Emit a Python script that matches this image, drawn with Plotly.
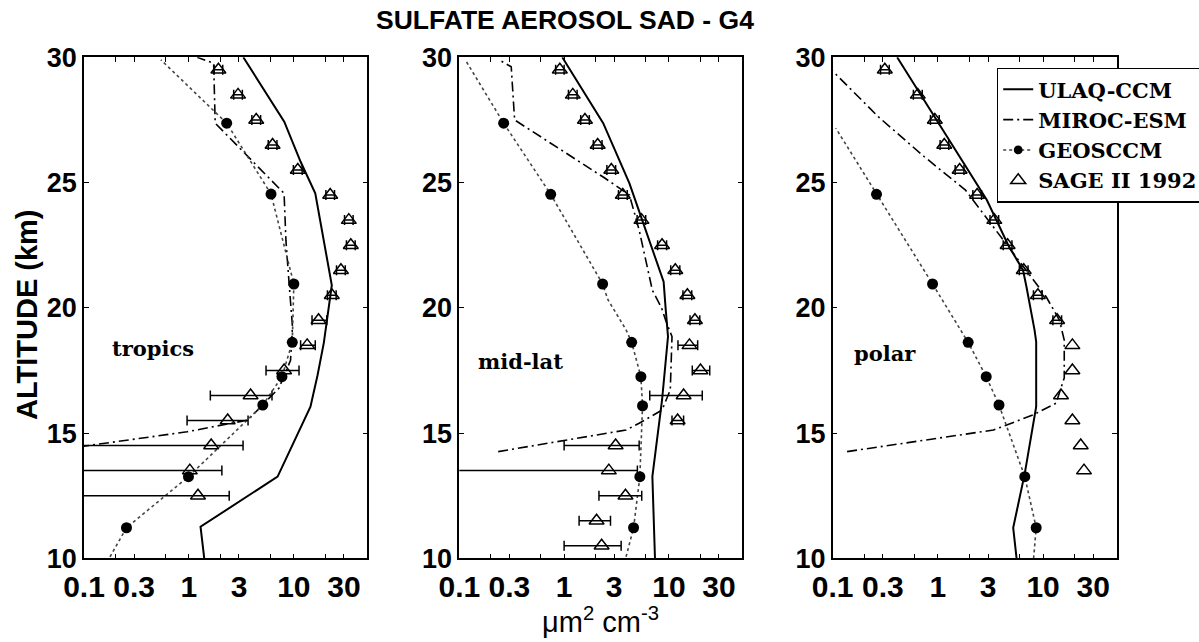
import plotly.graph_objects as go

# ------------------------------------------------------------------ data
TICK_VALS = [0.1, 0.3, 1, 3, 10, 30]
TICK_TEXT = ["0.1", "0.3", "1", "3", "10", "30"]
MINOR_TICK_VALS = [0.2, 0.6, 2, 6, 20]
Y_TICKS = [10, 15, 20, 25, 30]
PANEL_NAMES = ["tropics", "mid-lat", "polar"]
SERIES = ["ULAQ-CCM", "MIROC-ESM", "GEOSCCM", "SAGE II 1992"]

# --- tropics
trop_ulaq_alt = [10, 11.26, 13.26, 16.05, 17.3, 18.6, 20.9, 24.57, 25.83, 27.43, 30]
trop_ulaq_val = [1.40, 1.29, 7.0, 14.4, 16.8, 19.3, 23.0, 16.0, 11.6, 8.1, 3.3]
trop_miroc_alt = [14.45, 15.05, 15.52, 16.79, 17.9, 19.25, 21.0, 22.7, 24.57, 27.37, 29.76, 30]
trop_miroc_val = [0.09, 0.96, 3.65, 7.2, 9.3, 9.7, 9.0, 8.4, 8.07, 1.78, 1.72, 1.2]
trop_geos_alt = [10.06, 11.22, 13.26, 16.12, 17.25, 18.62, 20.95, 24.54, 27.37, 29.9]
trop_geos_val = [0.177, 0.254, 0.99, 5.06, 7.7, 9.66, 10.0, 6.06, 2.29, 0.54]
trop_geos_dot = [0, 1, 1, 1, 1, 1, 1, 1, 1, 0]
trop_sage_alt = [12.5, 13.5, 14.5, 15.5, 16.5, 17.5, 18.5, 19.5, 20.5, 21.5,
                 22.5, 23.5, 24.5, 25.5, 26.5, 27.5, 28.5, 29.5]
trop_sage_val = [1.22, 1.02, 1.63, 2.34, 3.87, 8.07, 13.4, 17.2, 23.0, 28.1,
                 34.9, 33.4, 22.2, 10.9, 6.27, 4.38, 2.94, 1.91]
trop_sage_lo = [0.05, 0.05, 0.05, 0.96, 1.60, 5.43, 11.6, 14.9, 20.9, 25.5,
                31.7, 30.4, 20.2, 9.9, 5.7, 3.98, 2.67, 1.74]
trop_sage_hi = [2.42, 2.06, 3.28, 3.66, 6.19, 11.2, 16.0, 20.6, 25.3, 30.9,
                38.4, 36.7, 24.4, 12.0, 6.9, 4.82, 3.23, 2.10]

# --- mid-latitudes
mid_ulaq_alt = [10, 11.26, 13.26, 16.32, 18.85, 19.98, 21.04, 24.97, 27.37, 30]
mid_ulaq_val = [7.36, 7.2, 6.95, 8.6, 9.8, 9.3, 8.9, 4.2, 2.36, 0.96]
mid_miroc_alt = [14.26, 15.12, 15.39, 15.92, 16.72, 18.85, 19.5, 20.0, 20.7, 23.1,
                 24.5, 25.2, 27.5, 29.62, 29.92]
mid_miroc_val = [0.235, 3.9, 5.2, 8.6, 10.3, 10.7, 9.3, 8.5, 6.95, 5.2,
                 4.2, 2.4, 0.337, 0.313, 0.235]
mid_geos_alt = [10.06, 11.22, 13.26, 16.09, 17.25, 18.62, 19.12, 20.32, 20.95, 24.53, 27.37, 29.9]
mid_geos_val = [3.9, 4.6, 5.28, 5.6, 5.4, 4.41, 3.9, 2.62, 2.33, 0.745, 0.265, 0.114]
mid_geos_dot = [0, 1, 1, 1, 1, 1, 0, 0, 1, 1, 1, 0]
mid_sage_alt = [10.5, 11.5, 12.5, 13.5, 14.5, 15.5, 16.5, 17.5, 18.5, 19.5,
                20.5, 21.5, 22.5, 23.5, 24.5, 25.5, 26.5, 27.5, 28.5, 29.5]
mid_sage_val = [2.28, 2.04, 3.85, 2.67, 3.1, 12.1, 13.8, 20.0, 15.7, 17.7,
                15.0, 11.5, 8.6, 5.47, 3.63, 2.82, 2.09, 1.58, 1.21, 0.91]
mid_sage_lo = [1.0, 1.39, 2.15, 0.05, 1.0, 10.7, 6.56, 16.7, 12.2, 15.9,
               13.6, 10.4, 7.8, 4.97, 3.3, 2.56, 1.9, 1.44, 1.1, 0.83]
mid_sage_hi = [3.5, 2.77, 5.5, 5.0, 5.2, 13.8, 20.8, 24.5, 18.8, 19.7,
               16.5, 12.7, 9.5, 6.0, 4.0, 3.1, 2.3, 1.74, 1.33, 1.0]

# --- polar
pol_ulaq_alt = [10, 11.22, 13.39, 16.05, 18.65, 19.11, 20.84, 21.5, 22.5, 24.3, 30]
pol_ulaq_val = [5.6, 5.2, 6.7, 8.6, 8.6, 8.3, 6.95, 6.45, 4.67, 2.92, 0.41]
pol_miroc_alt = [14.26, 15.12, 15.72, 16.19, 17.2, 18.71, 19.51, 20.44, 22.18, 23.24,
                 24.7, 26.03, 27.63, 29.45]
pol_miroc_val = [0.137, 3.37, 8.0, 13.3, 15.9, 15.9, 14.3, 10.7, 5.2, 3.37,
                 1.83, 0.743, 0.271, 0.1]
pol_geos_alt = [10.0, 11.22, 13.26, 16.12, 17.25, 18.62, 20.95, 24.53, 27.17]
pol_geos_val = [8.13, 8.6, 6.7, 3.81, 2.88, 1.94, 0.89, 0.261, 0.107]
pol_geos_dot = [0, 1, 1, 1, 1, 1, 1, 1, 0]
pol_sage_alt = [13.5, 14.5, 15.5, 16.5, 17.5, 18.5, 19.5, 20.5, 21.5, 22.5,
                23.5, 24.5, 25.5, 26.5, 27.5, 28.5, 29.5]
pol_sage_val = [24.5, 22.8, 19.0, 14.8, 19.0, 19.0, 13.6, 8.93, 6.55, 4.6,
                3.44, 2.36, 1.61, 1.15, 0.935, 0.644, 0.313]
pol_sage_lo = [None, None, None, None, None, None, 12.4, 8.1, 5.95, 4.18,
               3.13, 2.15, 1.46, 1.05, 0.85, 0.585, 0.285]
pol_sage_hi = [None, None, None, None, None, None, 15.0, 9.8, 7.2, 5.06,
               3.78, 2.6, 1.77, 1.27, 1.03, 0.71, 0.345]

PANELS = [
    dict(ulaq=(trop_ulaq_alt, trop_ulaq_val), miroc=(trop_miroc_alt, trop_miroc_val),
         geos=(trop_geos_alt, trop_geos_val, trop_geos_dot),
         sage=(trop_sage_alt, trop_sage_val, trop_sage_lo, trop_sage_hi)),
    dict(ulaq=(mid_ulaq_alt, mid_ulaq_val), miroc=(mid_miroc_alt, mid_miroc_val),
         geos=(mid_geos_alt, mid_geos_val, mid_geos_dot),
         sage=(mid_sage_alt, mid_sage_val, mid_sage_lo, mid_sage_hi)),
    dict(ulaq=(pol_ulaq_alt, pol_ulaq_val), miroc=(pol_miroc_alt, pol_miroc_val),
         geos=(pol_geos_alt, pol_geos_val, pol_geos_dot),
         sage=(pol_sage_alt, pol_sage_val, pol_sage_lo, pol_sage_hi)),
]

# ------------------------------------------------------------------ layout constants
W, H = 1199, 642
X_DOMAINS = [(84 / W, 367.3 / W), (459.3 / W, 742.3 / W), (832.7 / W, 1116.7 / W)]
Y_DOMAIN = (1 - 558.3 / H, 1 - 57.3 / H)
LABEL_POS = [(0.244, 18.36), (0.218, 17.85), (0.183, 18.18)]

SANS = "Liberation Sans, Arial, sans-serif"
SERIF = "DejaVu Serif, serif"

fig = go.Figure()

for i, p in enumerate(PANELS):
    xa = "x" if i == 0 else f"x{i + 1}"
    ya = "y" if i == 0 else f"y{i + 1}"
    show = i == 0

    a, v = p["ulaq"]
    fig.add_trace(go.Scatter(x=v, y=a, xaxis=xa, yaxis=ya, mode="lines",
                             name=SERIES[0], legendgroup="u", showlegend=show,
                             line=dict(color="black", width=2)))
    a, v = p["miroc"]
    fig.add_trace(go.Scatter(x=v, y=a, xaxis=xa, yaxis=ya, mode="lines",
                             name=SERIES[1], legendgroup="m", showlegend=show,
                             line=dict(color="black", width=1.6, dash="10px,4px,2px,4px")))
    a, v, d = p["geos"]
    fig.add_trace(go.Scatter(x=v, y=a, xaxis=xa, yaxis=ya, mode="lines+markers",
                             name=SERIES[2], legendgroup="g", showlegend=show,
                             line=dict(color="#444", width=1.6, dash="dot"),
                             marker=dict(color="black", size=[11 * k for k in d],
                                         opacity=1, line=dict(width=0, color="black"))))
    a, v, lo, hi = p["sage"]
    idx_e = [k for k in range(len(a)) if lo[k] is not None]
    idx_n = [k for k in range(len(a)) if lo[k] is None]
    fig.add_trace(go.Scatter(
        x=[v[k] for k in idx_e], y=[a[k] for k in idx_e], xaxis=xa, yaxis=ya,
        mode="markers", name=SERIES[3], legendgroup="s", showlegend=show,
        marker=dict(symbol="triangle-up-open", size=13, color="black",
                    line=dict(width=1.5, color="black")),
        error_x=dict(type="data", symmetric=False,
                     array=[hi[k] - v[k] for k in idx_e],
                     arrayminus=[v[k] - lo[k] for k in idx_e],
                     color="black", thickness=1.5, width=5)))
    if idx_n:
        fig.add_trace(go.Scatter(
            x=[v[k] for k in idx_n], y=[a[k] for k in idx_n], xaxis=xa, yaxis=ya,
            mode="markers", name=SERIES[3], legendgroup="s", showlegend=False,
            marker=dict(symbol="triangle-up-open", size=13, color="black",
                        line=dict(width=1.5, color="black"))))

    axis_common = dict(showline=True, linecolor="black", linewidth=1.5, mirror="ticks",
                       ticks="inside", ticklen=5, tickcolor="black", tickwidth=1.2,
                       showgrid=False, zeroline=False, automargin=False)
    xkey = "xaxis" if i == 0 else f"xaxis{i + 1}"
    ykey = "yaxis" if i == 0 else f"yaxis{i + 1}"
    fig.update_layout(**{
        xkey: dict(type="log", range=[-1, 1.7], domain=list(X_DOMAINS[i]), anchor=ya,
                   tickvals=TICK_VALS, ticktext=TICK_TEXT, ticklabelstandoff=1,
                   minor=dict(tickvals=MINOR_TICK_VALS, ticks="inside", ticklen=5,
                              tickcolor="black", tickwidth=1.2, showgrid=False),
                   tickfont=dict(family=SANS, size=30, color="black", weight="bold"),
                   **axis_common),
        ykey: dict(range=[10, 30], domain=list(Y_DOMAIN), anchor=xa,
                   tickvals=Y_TICKS, ticklabelstandoff=0,
                   tickfont=dict(family=SANS, size=27, color="black", weight="bold"),
                   **axis_common),
    })
    fx, fy = LABEL_POS[i]
    fig.add_annotation(text=PANEL_NAMES[i], xref=f"{xa} domain", yref=ya, x=fx, y=fy,
                       showarrow=False, xanchor="center", yanchor="middle",
                       font=dict(family=SERIF, size=21, color="black", weight="bold"))

fig.add_annotation(text="SULFATE AEROSOL SAD - G4", xref="paper", yref="paper",
                   x=564.7 / W, y=1 - 19.5 / H, showarrow=False,
                   xanchor="center", yanchor="middle",
                   font=dict(family=SANS, size=26.5, color="black", weight="bold"))
fig.add_annotation(text="ALTITUDE (km)", xref="paper", yref="paper",
                   x=27 / W, y=1 - 315 / H, showarrow=False, textangle=-90,
                   xanchor="center", yanchor="middle",
                   font=dict(family=SANS, size=29, color="black", weight="bold"))
fig.add_annotation(text="\u03bcm<sup>2</sup> cm<sup>-3</sup>", xref="paper", yref="paper",
                   x=600 / W, y=1 - 620 / H, showarrow=False,
                   xanchor="center", yanchor="middle",
                   font=dict(family=SANS, size=29, color="black"))

fig.update_layout(
    width=W, height=H, margin=dict(l=0, r=0, t=0, b=0, autoexpand=False),
    paper_bgcolor="white", plot_bgcolor="white",
    legend=dict(x=996.7 / W, y=1 - 67.7 / H, xanchor="left", yanchor="top",
                bgcolor="white", bordercolor="black", borderwidth=1.5,
                font=dict(family=SERIF, size=21, color="black", weight="bold"),
                itemwidth=30, tracegroupgap=0),
    showlegend=True,
)

fig.write_html("out.html", config={"displayModeBar": False},
               post_script="document.body.style.margin='0px';document.body.style.padding='0px';")
